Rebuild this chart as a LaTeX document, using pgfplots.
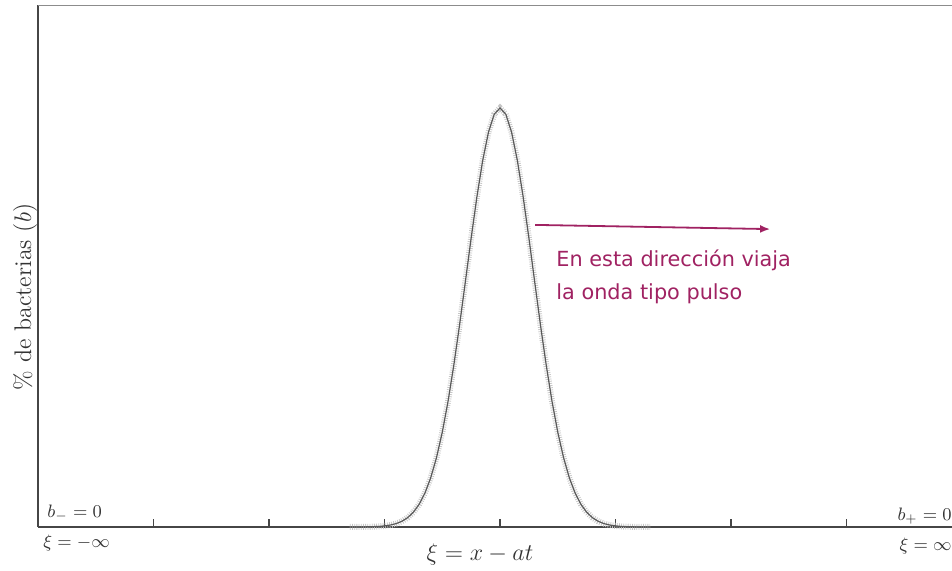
\documentclass[border=0pt]{standalone}
\usepackage{fontspec}
\usepackage{pgfplots}
\usepackage{pgfplotstable}
\pgfplotsset{compat=1.18}
\usetikzlibrary{arrows.meta}
\newfontfamily\annot{DejaVu Sans}
\definecolor{pulso}{RGB}{160,34,98}
\definecolor{axisgray}{RGB}{70,70,70}

\pgfplotstableread{
x y
-1.30 0.00004
-1.25 0.00009
-1.20 0.00019
-1.15 0.00039
-1.10 0.0008
-1.05 0.0014
-1.00 0.0026
-0.95 0.0047
-0.90 0.0081
-0.85 0.0136
-0.80 0.0223
-0.75 0.0353
-0.70 0.0543
-0.65 0.0811
-0.60 0.1176
-0.55 0.1656
-0.50 0.2262
-0.45 0.3000
-0.40 0.3863
-0.35 0.4827
-0.30 0.5856
-0.25 0.6896
-0.20 0.7883
-0.15 0.8748
-0.10 0.9423
-0.05 0.9852
0.00 1.0000
0.05 0.9852
0.10 0.9423
0.15 0.8748
0.20 0.7883
0.25 0.6896
0.30 0.5856
0.35 0.4827
0.40 0.3863
0.45 0.3000
0.50 0.2262
0.55 0.1656
0.60 0.1176
0.65 0.0811
0.70 0.0543
0.75 0.0353
0.80 0.0223
0.85 0.0136
0.90 0.0081
0.95 0.0047
1.00 0.0026
1.05 0.0014
1.10 0.0008
1.15 0.00039
1.20 0.00019
1.25 0.00009
1.30 0.00004
}\pulse

\begin{document}
\begin{tikzpicture}
\begin{axis}[
  at={(0,0)}, anchor=south west,
  scale only axis, width=457pt, height=261pt,
  xmin=-4, xmax=3.913, ymin=0, ymax=1.2458,
  axis x line=bottom, axis y line=left,
  axis line style={-, axisgray, line width=0.9pt},
  xtick={-3,-2,-1,0,1,2,3}, xticklabels={}, ytick=\empty,
  tick align=inside, major tick length=4pt,
  tick style={axisgray, line width=0.6pt},
  clip=false,
]
\draw[black!45, line width=0.5pt] (rel axis cs:0,1) -- (rel axis cs:1,1);
\addplot[gray!45, line width=3pt, dash pattern=on 0.4pt off 0.7pt] table[x=x,y=y] {\pulse};
\addplot[black!65, line width=0.6pt] table[x=x,y=y] {\pulse};

\draw[pulso, line width=0.9pt, -{Latex[length=5pt,width=4pt]}] (axis cs:0.303,0.721) -- (axis cs:2.338,0.711);
\node[anchor=base west, inner sep=0, text=pulso, font=\annot\fontsize{10.4}{12}\selectfont] at (axis cs:0.485,0.621) {En esta dirección viaja};
\node[anchor=base west, inner sep=0, text=pulso, font=\annot\fontsize{10.4}{12}\selectfont] at (axis cs:0.485,0.542) {la onda tipo pulso};

\node[rotate=90, anchor=base, inner sep=0, font=\large, text=black!80] at ([xshift=-3.5pt]rel axis cs:0,0.4406) {\% de bacterias $(b)$};
\node[anchor=base, inner sep=0, font=\large, text=black!80] at ([yshift=-16.5pt]rel axis cs:0.4836,0) {$\xi = x - at$};

\node[anchor=base west, font=\small, inner sep=0, text=black!80] at ([xshift=4.5pt,yshift=5pt]rel axis cs:0,0) {$b_- = 0$};
\node[anchor=base west, font=\small, inner sep=0, text=black!80] at ([xshift=2.5pt,yshift=-10pt]rel axis cs:0,0) {$\xi = -\infty$};
\node[anchor=base east, font=\small, inner sep=0, text=black!80] at ([yshift=3.5pt]rel axis cs:1,0) {$b_+ = 0$};
\node[anchor=base east, font=\small, inner sep=0, text=black!80] at ([yshift=-11.5pt]rel axis cs:1,0) {$\xi = \infty$};
\end{axis}
\pgfresetboundingbox
\path (-19pt,-21.5pt) rectangle (457pt,263.5pt);
\end{tikzpicture}
\end{document}
